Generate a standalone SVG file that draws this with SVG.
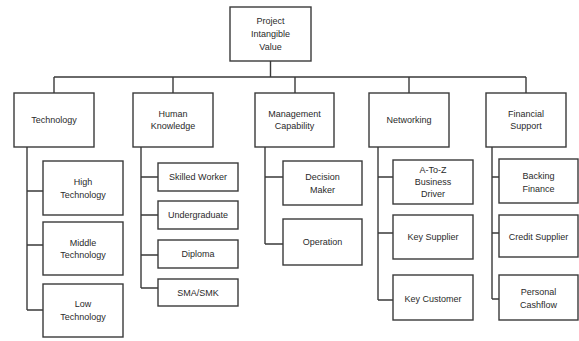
<svg xmlns="http://www.w3.org/2000/svg" width="579" height="341" viewBox="0 0 579 341">
<style>
.b{fill:#fff;stroke:#3a3a3a;stroke-width:1.4}
.c{fill:none;stroke:#3a3a3a;stroke-width:1.4}
text{font-family:"Liberation Sans",Arial,sans-serif;font-size:9px;fill:#2a2a2a;text-anchor:middle}
</style>
<rect width="579" height="341" fill="#fff"/>
<g id="connectors">
<path class="c" d="M270.5 61V77M54 77H526M54 77V93M173 77V93M295 77V93M409 77V93M526 77V93"/>
<path class="c" d="M27 147V310M27 191H43M27 245H43M27 310H43"/>
<path class="c" d="M141 147V288M141 177H158M141 215H158M141 255H158M141 288H158"/>
<path class="c" d="M265 147V244M265 177H283M265 244H283"/>
<path class="c" d="M378 147V300M378 177H393M378 233H393M378 300H393"/>
<path class="c" d="M492 147V299M492 177H499M492 233H499M492 299H499"/>
</g>
<g id="root"><rect class="b" x="230" y="7" width="81" height="54"/><text x="270.5" y="24">Project</text><text x="270.5" y="37">Intangible</text><text x="270.5" y="50">Value</text></g>
<g id="technology"><rect class="b" x="14" y="93" width="80" height="54"/><text x="54" y="123">Technology</text></g>
<g id="human-knowledge"><rect class="b" x="133" y="93" width="80" height="54"/><text x="173" y="117">Human</text><text x="173" y="129">Knowledge</text></g>
<g id="management-capability"><rect class="b" x="255" y="93" width="79" height="54"/><text x="294.5" y="117">Management</text><text x="294.5" y="129">Capability</text></g>
<g id="networking"><rect class="b" x="369" y="93" width="80" height="54"/><text x="409" y="123">Networking</text></g>
<g id="financial-support"><rect class="b" x="486" y="93" width="80" height="54"/><text x="526" y="117">Financial</text><text x="526" y="129">Support</text></g>
<g id="high-technology"><rect class="b" x="43" y="161" width="80" height="54"/><text x="83" y="185">High</text><text x="83" y="198">Technology</text></g>
<g id="middle-technology"><rect class="b" x="43" y="222" width="80" height="53"/><text x="83" y="246">Middle</text><text x="83" y="258">Technology</text></g>
<g id="low-technology"><rect class="b" x="43" y="284" width="80" height="53"/><text x="83" y="307">Low</text><text x="83" y="320">Technology</text></g>
<g id="skilled-worker"><rect class="b" x="158" y="163" width="80" height="28"/><text x="198" y="180">Skilled Worker</text></g>
<g id="undergraduate"><rect class="b" x="158" y="201" width="80" height="28"/><text x="198" y="218">Undergraduate</text></g>
<g id="diploma"><rect class="b" x="158" y="240" width="80" height="28"/><text x="198" y="257">Diploma</text></g>
<g id="sma-smk"><rect class="b" x="158" y="279" width="80" height="27"/><text x="198" y="296">SMA/SMK</text></g>
<g id="decision-maker"><rect class="b" x="283" y="161" width="79" height="44"/><text x="322.5" y="180">Decision</text><text x="322.5" y="193">Maker</text></g>
<g id="operation"><rect class="b" x="283" y="219" width="79" height="46"/><text x="322.5" y="245">Operation</text></g>
<g id="a-to-z"><rect class="b" x="393" y="160" width="80" height="44"/><text x="433" y="173">A-To-Z</text><text x="433" y="185">Business</text><text x="433" y="197">Driver</text></g>
<g id="key-supplier"><rect class="b" x="393" y="215" width="80" height="44"/><text x="433" y="240">Key Supplier</text></g>
<g id="key-customer"><rect class="b" x="393" y="275" width="80" height="45"/><text x="433" y="302">Key Customer</text></g>
<g id="backing-finance"><rect class="b" x="499" y="159" width="79" height="44"/><text x="538.5" y="179">Backing</text><text x="538.5" y="192">Finance</text></g>
<g id="credit-supplier"><rect class="b" x="499" y="215" width="79" height="42"/><text x="538.5" y="240">Credit Supplier</text></g>
<g id="personal-cashflow"><rect class="b" x="499" y="275" width="79" height="45"/><text x="538.5" y="295">Personal</text><text x="538.5" y="308">Cashflow</text></g>
</svg>
